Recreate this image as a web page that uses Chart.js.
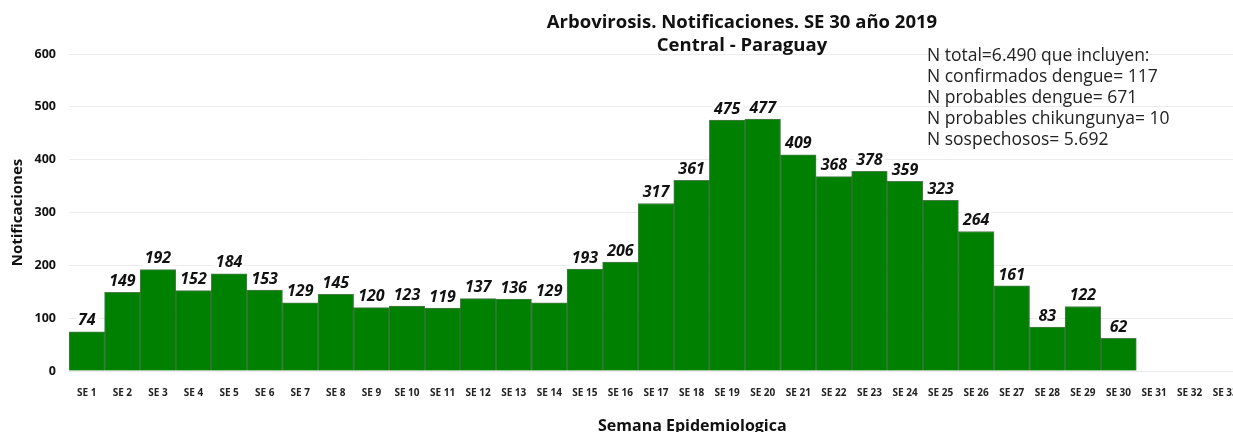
<!DOCTYPE html>
<html>
<head>
<meta charset="utf-8">
<script src="https://cdn.jsdelivr.net/npm/chart.js@4/dist/chart.umd.min.js"></script>
<style>
  html, body { margin: 0; padding: 0; background: #fff; }
  body { width: 1233px; height: 432px; overflow: hidden; }
  #wrap { position: relative; width: 1250px; height: 445px; }
  .txt { position: absolute; font-family: "Open Sans", sans-serif; color: #111; white-space: nowrap; }
  #title { left: 542px; top: 9px; width: 400px; text-align: center; font-weight: bold; font-size: 18.5px; line-height: 23px; }
  #note { left: 927px; top: 44px; font-size: 17.5px; line-height: 21.1px; color: #222; }
  #xtitle { left: 598px; top: 414px; font-weight: bold; font-size: 16px; }
</style>
</head>
<body>
<div id="wrap">
  <canvas id="chart" width="1250" height="445"></canvas>
  <div id="title" class="txt">Arbovirosis. Notificaciones. SE 30 año 2019<br>Central - Paraguay</div>
  <div id="note" class="txt">N total=6.490 que incluyen:<br>N confirmados dengue= 117<br>N probables dengue= 671<br>N probables chikungunya= 10<br>N sospechosos= 5.692</div>
  <div id="xtitle" class="txt">Semana Epidemiologica</div>
</div>
<script>
// semanas epidemiologicas
const semanas = ['SE 1','SE 2','SE 3','SE 4','SE 5','SE 6','SE 7','SE 8','SE 9','SE 10',
  'SE 11','SE 12','SE 13','SE 14','SE 15','SE 16','SE 17','SE 18','SE 19','SE 20',
  'SE 21','SE 22','SE 23','SE 24','SE 25','SE 26','SE 27','SE 28','SE 29','SE 30',
  'SE 31','SE 32','SE 33'];

// notificaciones por semana (SE 31-33 sin datos)
const notificaciones = [74, 149, 192, 152, 184, 153, 129, 145, 120, 123,
  119, 137, 136, 129, 193, 206, 317, 361, 475, 477,
  409, 368, 378, 359, 323, 264, 161, 83, 122, 62,
  null, null, null];

const yTicks = [0, 100, 200, 300, 400, 500, 600];

// etiquetas encima de las barras
const barLabels = {
  id: 'barLabels',
  afterDatasetsDraw(chart) {
    const ctx = chart.ctx;
    const meta = chart.getDatasetMeta(0);
    ctx.save();
    ctx.font = 'italic bold 16px "Open Sans"';
    ctx.textAlign = 'center';
    ctx.textBaseline = 'middle';
    meta.data.forEach((bar, i) => {
      const v = notificaciones[i];
      if (v == null) return;
      const t = String(v);
      const w = ctx.measureText(t).width;
      const y = bar.y - 11;
      ctx.fillStyle = '#fff';
      ctx.fillRect(bar.x - w / 2 - 2, y - 8, w + 4, 16);
      ctx.fillStyle = '#111';
      ctx.fillText(t, bar.x, y);
    });
    ctx.restore();
  }
};

new Chart(document.getElementById('chart'), {
  type: 'bar',
  data: {
    labels: semanas,
    datasets: [{
      data: notificaciones,
      backgroundColor: '#008000',
      borderColor: 'rgba(0, 70, 0, 0.7)',
      borderWidth: 1,
      barPercentage: 1,
      categoryPercentage: 1
    }]
  },
  options: {
    responsive: false,
    animation: false,
    layout: { padding: { top: 54, right: 7, left: 0, bottom: 0 } },
    plugins: {
      legend: { display: false },
      tooltip: { enabled: false }
    },
    scales: {
      x: {
        grid: { display: false },
        border: { display: false },
        ticks: {
          color: '#222',
          font: { family: 'Open Sans', weight: 'bold', size: 10 },
          padding: 8,
          maxRotation: 0,
          autoSkip: false
        },
        afterFit: function(s) { s.height = 74; }
      },
      y: {
        min: 0,
        max: 600,
        afterBuildTicks: function(s) { s.ticks = yTicks.map(v => ({ value: v })); },
        grid: { color: '#ebebeb', drawTicks: false },
        border: { display: false },
        ticks: {
          color: '#111',
          font: { family: 'Open Sans', weight: 'bold', size: 12.5 },
          padding: 13
        },
        title: {
          display: true,
          text: 'Notificaciones',
          color: '#111',
          font: { family: 'Open Sans', weight: 'bold', size: 15 },
          padding: { top: 9, bottom: 0 }
        },
        afterFit: function(s) { s.width = 69; }
      }
    }
  },
  plugins: [barLabels]
});
</script>
</body>
</html>
